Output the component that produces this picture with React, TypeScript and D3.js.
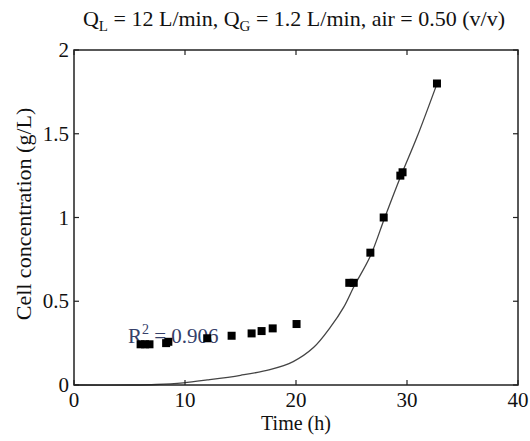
import React from "react";
import * as d3 from "d3";

// Measured cell concentration over time
const timeH = [6.0, 6.4, 6.8, 8.3, 8.5, 12.0, 14.2, 16.0, 16.9, 17.9, 20.05, 24.8, 25.2, 26.7, 27.9, 29.4, 29.6, 32.7];
const concGL = [0.243, 0.243, 0.243, 0.25, 0.258, 0.279, 0.294, 0.308, 0.322, 0.338, 0.364, 0.61, 0.61, 0.79, 1.0, 1.25, 1.27, 1.8];

// Fitted model curve
const fitTime = [0, 5, 7.4, 9.85, 12, 15, 17.65, 19.75, 21.6, 23.1, 24.3, 25.2, 26.7, 28.0, 29.4, 30.9, 32.6];
const fitConc = [0, 0, 0.003, 0.013, 0.03, 0.058, 0.092, 0.14, 0.225, 0.345, 0.465, 0.585, 0.77, 1.0, 1.24, 1.48, 1.78];

const xTicks = [0, 10, 20, 30, 40];
const yTicks = [0, 0.5, 1, 1.5, 2];
const yTickLabels = ["0", "0.5", "1", "1.5", "2"];

const W = 530;
const H = 441;
const M = { left: 74, right: 518, top: 50, bottom: 385 };
const FONT = "'Liberation Serif', 'Times New Roman', serif";

export default function App() {
  const x = d3.scaleLinear().domain([0, 40]).range([M.left, M.right]);
  const y = d3.scaleLinear().domain([0, 2]).range([M.bottom, M.top]);
  const line = d3
    .line<number>()
    .x((_, i) => x(fitTime[i]))
    .y((d) => y(d))
    .curve(d3.curveCatmullRom.alpha(0.5));
  const tick = 5;
  const sq = 8;

  return (
    <svg
      width={W}
      height={H}
      style={{ position: "absolute", left: 0, top: 0, background: "#fff" }}
      fontFamily={FONT}
    >
      {/* title */}
      <text x={294} y={26} fontSize={22} textAnchor="middle" fill="#111">
        <tspan>Q</tspan>
        <tspan fontSize={15} dy={5}>L</tspan>
        <tspan dy={-5}> = 12 L/min, Q</tspan>
        <tspan fontSize={15} dy={5}>G</tspan>
        <tspan dy={-5}> = 1.2 L/min, air = 0.50 (v/v)</tspan>
      </text>

      {/* R² annotation */}
      <text x={128} y={343} fontSize={21} fill="#35406a">
        <tspan>R</tspan>
        <tspan fontSize={14} dy={-9}>2</tspan>
        <tspan dy={9}> = 0.906</tspan>
      </text>

      {/* fitted curve */}
      <path d={line(fitConc) || ""} fill="none" stroke="#444" strokeWidth={1.3} />

      {/* data markers */}
      {timeH.map((t, i) => (
        <rect
          key={i}
          x={x(t) - sq / 2}
          y={y(concGL[i]) - sq / 2}
          width={sq}
          height={sq}
          fill="#000"
        />
      ))}

      {/* frame */}
      <rect
        x={M.left}
        y={M.top}
        width={M.right - M.left}
        height={M.bottom - M.top}
        fill="none"
        stroke="#222"
        strokeWidth={1.5}
      />

      {/* x ticks */}
      {xTicks.map((v) => (
        <g key={"x" + v}>
          <line x1={x(v)} x2={x(v)} y1={M.bottom} y2={M.bottom - tick} stroke="#222" strokeWidth={1.2} />
          <line x1={x(v)} x2={x(v)} y1={M.top} y2={M.top + tick} stroke="#222" strokeWidth={1.2} />
          <text x={x(v)} y={407} fontSize={21} textAnchor="middle" fill="#111">
            {v}
          </text>
        </g>
      ))}

      {/* y ticks */}
      {yTicks.map((v, i) => (
        <g key={"y" + v}>
          <line x1={M.left} x2={M.left + tick} y1={y(v)} y2={y(v)} stroke="#222" strokeWidth={1.2} />
          <line x1={M.right} x2={M.right - tick} y1={y(v)} y2={y(v)} stroke="#222" strokeWidth={1.2} />
          <text x={69} y={y(v) + 7} fontSize={21} textAnchor="end" fill="#111">
            {yTickLabels[i]}
          </text>
        </g>
      ))}

      {/* axis labels */}
      <text x={296} y={430} fontSize={20} textAnchor="middle" fill="#111">
        Time (h)
      </text>
      <text
        transform={`translate(31, 214) rotate(-90)`}
        fontSize={22}
        textAnchor="middle"
        fill="#111"
      >
        Cell concentration (g/L)
      </text>
    </svg>
  );
}
